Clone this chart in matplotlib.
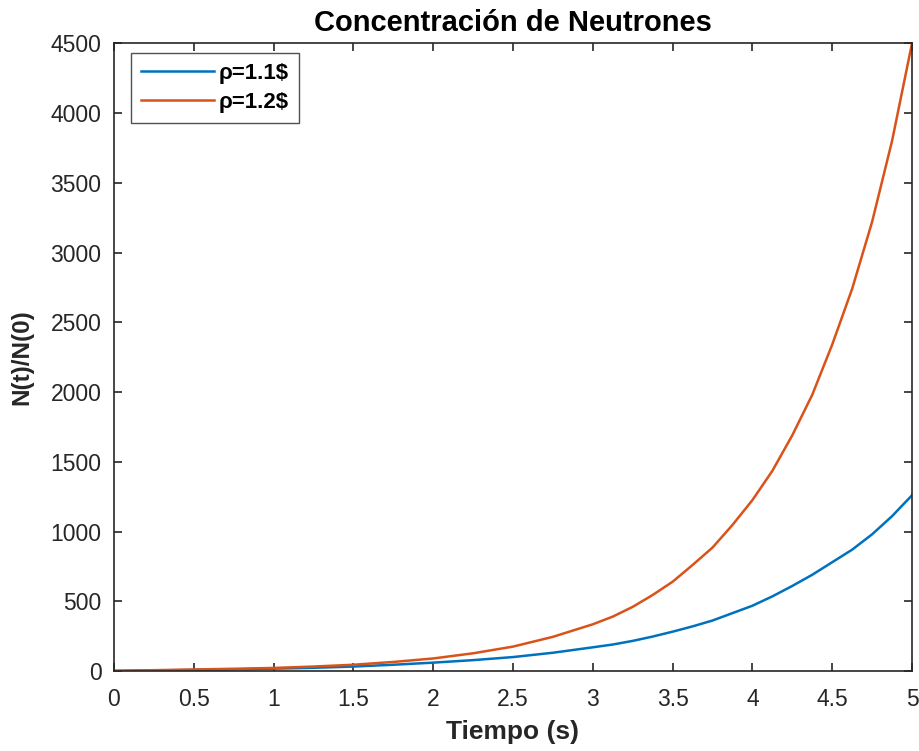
import numpy as np
import matplotlib
matplotlib.use("Agg")
import matplotlib.pyplot as plt

plt.rcParams['font.family'] = ['Liberation Sans', 'DejaVu Sans']

# tiempo (s) y N(t)/N(0) para cada reactividad
t = [0, 0.25, 0.5, 0.75, 1, 1.25, 1.5, 1.75, 2, 2.25, 2.5, 2.75, 3, 3.125,
     3.25, 3.375, 3.5, 3.625, 3.75, 3.875, 4, 4.125, 4.25, 4.375, 4.5,
     4.625, 4.75, 4.875, 5]
n_11 = [1, 4, 8, 12, 17, 23, 32, 45, 60, 78, 100, 131, 170, 190,
        216, 247, 282, 320, 362, 415, 468, 535, 610, 690, 780,
        870, 980, 1110, 1260]
n_12 = [1, 6, 11, 16, 22, 32, 45, 65, 90, 127, 175, 245, 335, 390,
        460, 545, 640, 760, 885, 1047, 1225, 1435, 1690, 1980, 2340,
        2740, 3220, 3800, 4500]
labels = ['ρ=1.1$', 'ρ=1.2$']

dark = '#262626'

fig = plt.figure(figsize=(9.2, 7.51), dpi=100)
ax = fig.add_axes([0.1239, 0.1065, 0.8674, 0.8358])

ax.plot(t, n_11, color='#0072BD', lw=1.8, label=labels[0])
ax.plot(t, n_12, color='#D95319', lw=1.8, label=labels[1])

ax.set_xlim(0, 5)
ax.set_ylim(0, 4500)
ax.set_xticks(np.arange(0, 5.01, 0.5))
ax.set_xticklabels(['0', '0.5', '1', '1.5', '2', '2.5', '3', '3.5', '4', '4.5', '5'])
ax.set_yticks(np.arange(0, 4501, 500))

ax.tick_params(direction='in', length=6, width=1.2, colors=dark,
               labelsize=16.5, top=True, right=True)
ax.tick_params(axis='x', pad=12)
ax.tick_params(axis='y', pad=9)
for s in ax.spines.values():
    s.set_color(dark)
    s.set_linewidth(1.2)

ax.set_title('Concentración de Neutrones', fontsize=21, fontweight='bold',
             color='black', pad=9)
ax.set_xlabel('Tiempo (s)', fontsize=19, fontweight='bold', color=dark, labelpad=7)
ax.set_ylabel('N(t)/N(0)', fontsize=17.5, fontweight='bold', color=dark, labelpad=12)

leg = ax.legend(loc='upper left', bbox_to_anchor=(0.021, 0.985),
                prop={'weight': 'bold', 'size': 16}, handlelength=3.3,
                frameon=True, fancybox=False, borderpad=0.45, labelspacing=0.35,
                handletextpad=0.2, borderaxespad=0)
leg.get_frame().set_edgecolor(dark)
leg.get_frame().set_linewidth(1.0)

fig.savefig('out.png', dpi=100)
